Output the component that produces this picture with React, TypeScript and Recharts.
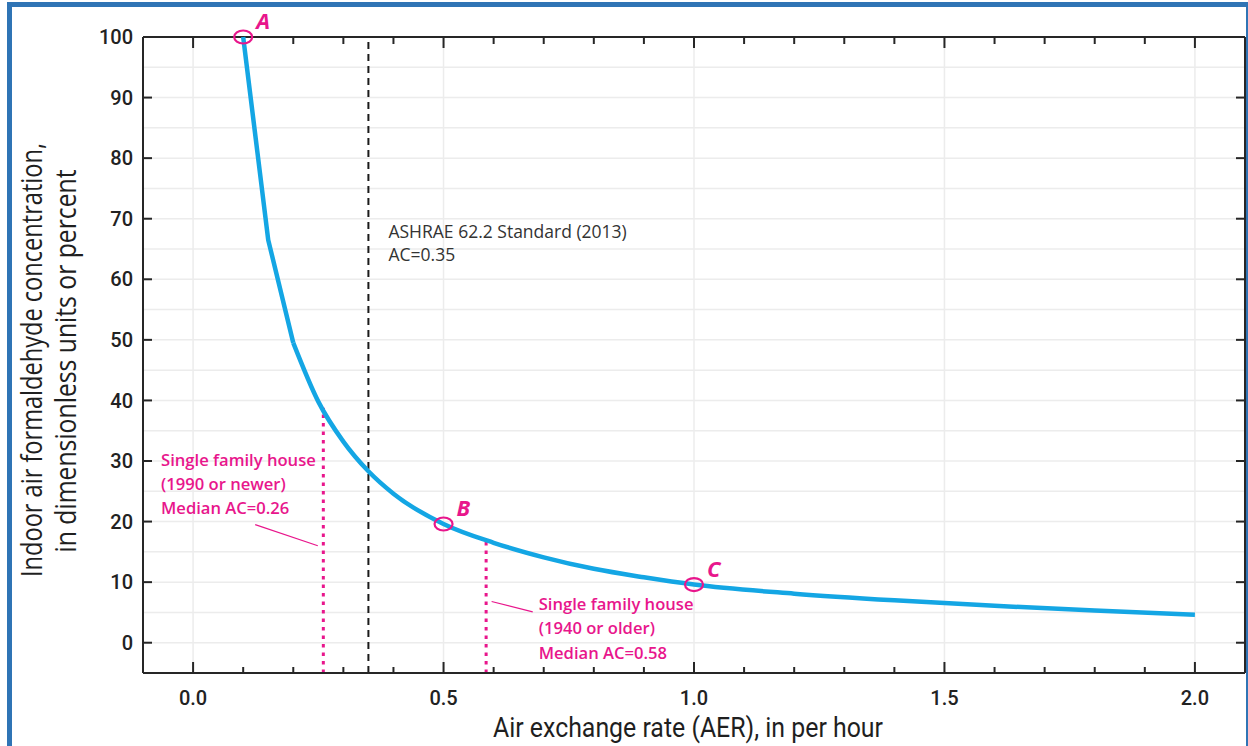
import {
  CartesianGrid,
  ComposedChart,
  Line,
  ReferenceLine,
  Scatter,
  XAxis,
  YAxis,
} from "recharts";

// curve (AER per hour -> relative concentration)
// the first three points are joined by straight segments, the rest is smooth
const steepAer = [0.1, 0.15, 0.2];
const steepConc = [100, 66.5, 49.5];
const tailAer = [0.2, 0.25, 0.3, 0.35, 0.4, 0.5, 0.6, 0.7, 0.8, 0.9, 1.0, 1.2, 1.4, 1.6, 1.8, 2.0];
const tailConc = [49.5, 39.8, 33.2, 28.3, 24.6, 19.6, 16.5, 14.1, 12.2, 10.8, 9.6, 8.1, 7.0, 6.1, 5.3, 4.6];

const pointLabels = ["A", "B", "C"];
const pointAer = [0.1, 0.5, 1.0];
const pointConc = [100, 19.6, 9.6];

const xTicks = [0, 0.5, 1, 1.5, 2];
const xMinorTicks = [0.1, 0.2, 0.3, 0.4, 0.6, 0.7, 0.8, 0.9, 1.1, 1.2, 1.3, 1.4, 1.6, 1.7, 1.8, 1.9];
const yTicks = [0, 10, 20, 30, 40, 50, 60, 70, 80, 90, 100];
const yGrid = [0, 5, 10, 15, 20, 25, 30, 35, 40, 45, 50, 55, 60, 65, 70, 75, 80, 85, 90, 95];

const ashraeAc = 0.35;
const newHouseAc = 0.26;
const newHouseConc = 38.8;
const oldHouseAc = 0.585;
const oldHouseConc = 17;

const ashraeText = ["ASHRAE 62.2 Standard (2013)", "AC=0.35"];
const newHouseText = ["Single family house", "(1990 or newer)", "Median AC=0.26"];
const oldHouseText = ["Single family house", "(1940 or older)", "Median AC=0.58"];

const BLUE = "#14a6e4";
const MAGENTA = "#e8168c";
const INK = "#262626";
const FRAME = "#2f74b5";
const NARROW = "'Open Sans', 'DejaVu Sans', sans-serif";

const steep = steepAer.map((x, i) => ({ x, y: steepConc[i] }));
const tail = tailAer.map((x, i) => ({ x, y: tailConc[i] }));
const points = pointAer.map((x, i) => ({ x, y: pointConc[i], label: pointLabels[i] }));
const notes = [
  { x: 0.39, y: 67.8, lines: ashraeText, color: "#333", weight: 400, size: 17.5, gap: 23 },
  { x: -0.064, y: 30.2, lines: newHouseText, color: MAGENTA, weight: 600, size: 16.6, gap: 24 },
  { x: 0.69, y: 6.4, lines: oldHouseText, color: MAGENTA, weight: 600, size: 16.6, gap: 24.5 },
];

function tickShape(edge: "bottom" | "top" | "left" | "right", len: number) {
  return (p: any) => {
    const { x1, y1, x2, y2 } = p;
    let c = { x1, y1, x2, y2 };
    if (edge === "bottom") { const b = Math.max(y1, y2); c = { x1, x2: x1, y1: b, y2: b - len }; }
    if (edge === "top") { const t = Math.min(y1, y2); c = { x1, x2: x1, y1: t, y2: t + len }; }
    if (edge === "left") { const l = Math.min(x1, x2); c = { x1: l, x2: l + len, y1, y2: y1 }; }
    if (edge === "right") { const r = Math.max(x1, x2); c = { x1: r, x2: r - len, y1, y2: y1 }; }
    return <line {...c} stroke={INK} strokeWidth={2} />;
  };
}

const MarkerShape = (p: any) => (
  <g>
    <ellipse cx={p.cx} cy={p.cy} rx={9} ry={6.5} fill="none" stroke={MAGENTA} strokeWidth={2.2} />
    <text
      x={p.cx + 13}
      y={p.cy - 8}
      fill={MAGENTA}
      fontSize={22}
      fontWeight={700}
      fontStyle="italic"
      fontFamily={NARROW}
    >
      {p.payload.label}
    </text>
  </g>
);

const NoteShape = (p: any) => {
  const n = p.payload;
  return (
    <text fill={n.color} fontSize={n.size} fontWeight={n.weight} fontFamily={NARROW}>
      {n.lines.map((s: string, i: number) => (
        <tspan key={i} x={p.cx} y={p.cy + i * n.gap + 6}>
          {s}
        </tspan>
      ))}
    </text>
  );
};

export default function App() {
  return (
    <div style={{ position: "fixed", inset: 0, overflow: "hidden", background: "#fff" }}>
      <div
        style={{
          position: "absolute",
          left: 7,
          top: 2,
          width: 1244,
          height: 800,
          border: `5px solid ${FRAME}`,
          boxSizing: "border-box",
        }}
      />
      <div style={{ position: "absolute", left: 0, top: 0 }}>
        <ComposedChart width={1248} height={746} margin={{ top: 37, right: 3, bottom: 0, left: 0 }}>
          <CartesianGrid
            stroke="#ececec"
            strokeWidth={1.5}
            horizontalValues={yGrid}
            verticalValues={xTicks}
          />
          <XAxis
            dataKey="x"
            type="number"
            domain={[-0.1, 2.1]}
            ticks={xTicks}
            tickFormatter={(v: number) => v.toFixed(1)}
            tickLine={false}
            tickSize={0}
            tickMargin={18}
            height={73}
            axisLine={{ stroke: INK, strokeWidth: 2 }}
            tick={{ fill: "#222", fontSize: 20, fontWeight: 500, fontFamily: "Roboto, sans-serif" }}
            label={{
              content: (lp: any) => {
                const vb = lp.viewBox;
                return (
                  <text
                    x={vb.x + vb.width / 2 - 6}
                    y={vb.y + 64}
                    textAnchor="middle"
                    fill="#1f1f1f"
                    fontSize={27}
                    fontFamily="Roboto, sans-serif"
                    textLength={390}
                    lengthAdjust="spacingAndGlyphs"
                  >
                    Air exchange rate (AER), in per hour
                  </text>
                );
              },
            }}
          />
          <YAxis
            type="number"
            domain={[-5, 100]}
            ticks={yTicks}
            width={143}
            tickLine={false}
            tickSize={0}
            tickMargin={10}
            axisLine={{ stroke: INK, strokeWidth: 2 }}
            tick={{ fill: "#222", fontSize: 20, fontWeight: 500, fontFamily: "Roboto, sans-serif" }}
            label={{
              content: () => (
                <g fill="#1f1f1f" fontSize={29} fontFamily={NARROW}>
                  <text
                    x={42}
                    y={360}
                    textAnchor="middle"
                    transform="rotate(-90, 42, 360)"
                    textLength={434}
                    lengthAdjust="spacingAndGlyphs"
                  >
                    Indoor air formaldehyde concentration,
                  </text>
                  <text
                    x={76}
                    y={361}
                    textAnchor="middle"
                    transform="rotate(-90, 76, 361)"
                    textLength={383}
                    lengthAdjust="spacingAndGlyphs"
                  >
                    in dimensionless units or percent
                  </text>
                </g>
              ),
            }}
          />

          {/* frame: top and right edges */}
          <ReferenceLine y={100} stroke={INK} strokeWidth={2} />
          <ReferenceLine x={2.1} stroke={INK} strokeWidth={2} />

          {/* inward ticks on all four sides */}
          {xTicks.map((t) => (
            <ReferenceLine key={`bM${t}`} x={t} shape={tickShape("bottom", 11)} />
          ))}
          {xMinorTicks.map((t) => (
            <ReferenceLine key={`bm${t}`} x={t} shape={tickShape("bottom", 6)} />
          ))}
          {xTicks.map((t) => (
            <ReferenceLine key={`tM${t}`} x={t} shape={tickShape("top", 11)} />
          ))}
          {xMinorTicks.map((t) => (
            <ReferenceLine key={`tm${t}`} x={t} shape={tickShape("top", 7)} />
          ))}
          {yTicks.map((t) => (
            <ReferenceLine key={`l${t}`} y={t} shape={tickShape("left", 9)} />
          ))}
          {yTicks.map((t) => (
            <ReferenceLine key={`r${t}`} y={t} shape={tickShape("right", 9)} />
          ))}

          <ReferenceLine x={ashraeAc} stroke="#1a1a1a" strokeWidth={2} strokeDasharray="7 5" />
          <ReferenceLine
            segment={[{ x: newHouseAc, y: -5 }, { x: newHouseAc, y: newHouseConc }]}
            stroke={MAGENTA}
            strokeWidth={3}
            strokeDasharray="3.5 5"
          />
          <ReferenceLine
            segment={[{ x: oldHouseAc, y: -5 }, { x: oldHouseAc, y: oldHouseConc }]}
            stroke={MAGENTA}
            strokeWidth={3}
            strokeDasharray="3.5 5"
          />
          <ReferenceLine
            segment={[{ x: 0.124, y: 19.5 }, { x: 0.249, y: 16 }]}
            stroke={MAGENTA}
            strokeWidth={1.2}
          />
          <ReferenceLine
            segment={[{ x: 0.596, y: 6.8 }, { x: 0.678, y: 5.1 }]}
            stroke={MAGENTA}
            strokeWidth={1.2}
          />

          <Line
            data={steep}
            dataKey="y"
            type="linear"
            stroke={BLUE}
            strokeWidth={4.5}
            strokeLinejoin="round"
            dot={false}
            activeDot={false}
            isAnimationActive={false}
          />
          <Line
            data={tail}
            dataKey="y"
            type="monotone"
            stroke={BLUE}
            strokeWidth={4.5}
            strokeLinejoin="round"
            dot={false}
            activeDot={false}
            isAnimationActive={false}
          />
          <Scatter data={points} dataKey="y" shape={MarkerShape} isAnimationActive={false} />
          <Scatter data={notes} dataKey="y" shape={NoteShape} isAnimationActive={false} />
        </ComposedChart>
      </div>
    </div>
  );
}
